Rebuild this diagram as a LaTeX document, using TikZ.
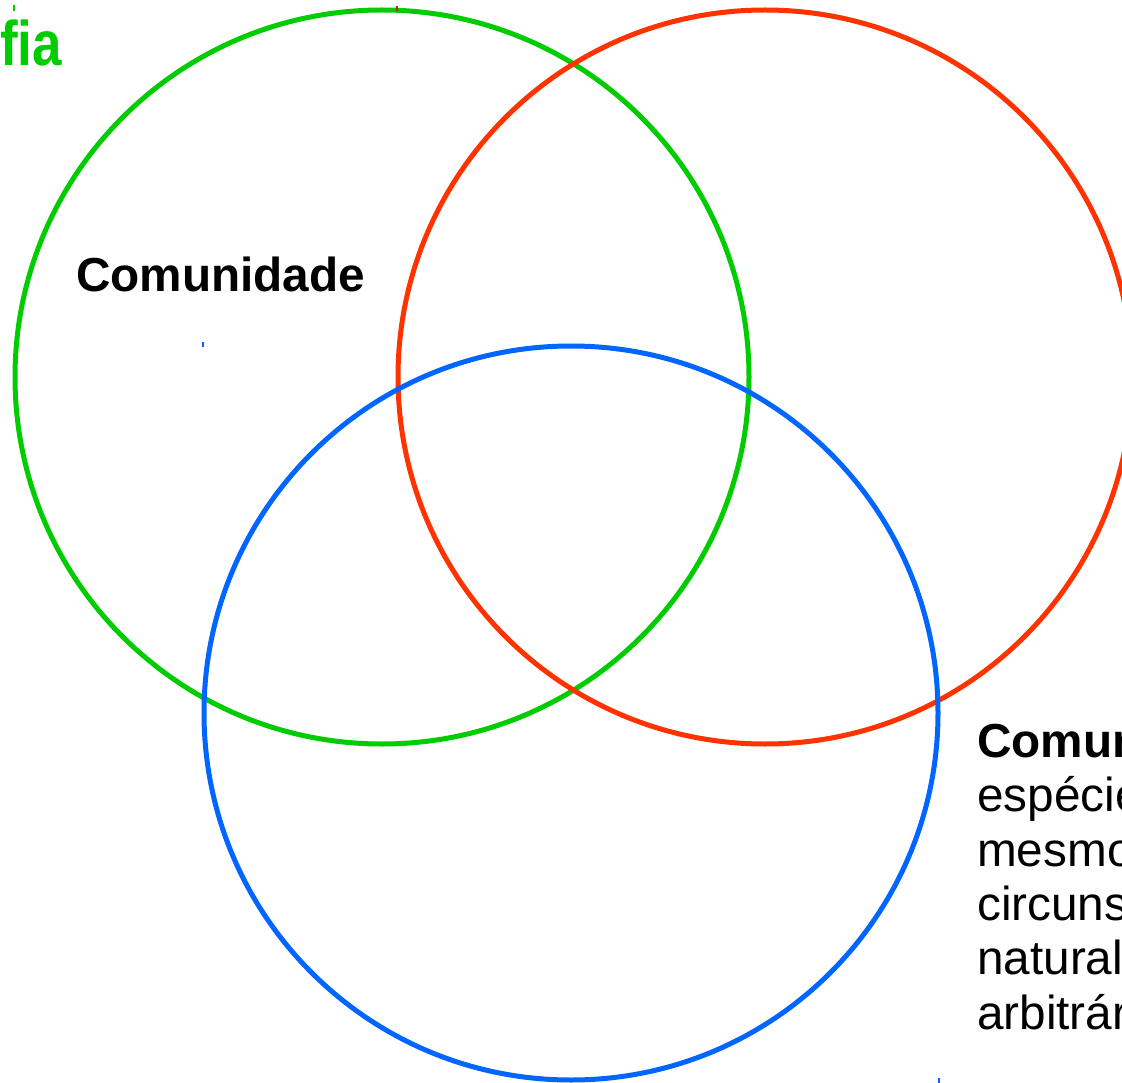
\documentclass[tikz,border=0pt]{standalone}
\usepackage{fontspec}
\setmainfont{Liberation Sans}
\definecolor{ringgreen}{HTML}{00CC00}
\definecolor{ringred}{HTML}{FF3300}
\definecolor{ringblue}{HTML}{0066FF}
\begin{document}
\begin{tikzpicture}[x=1pt,y=-1pt,
  ring/.style={line width=5pt},
  tick/.style={line width=1.2pt},
  label/.style={inner sep=0pt,anchor=base west,font=\fontsize{47.7}{54}\selectfont},
  heading/.style={label,font=\fontsize{47.7}{54}\selectfont\bfseries}]
\useasboundingbox (0,0) rectangle (1122,1083);

% the three overlapping sets
\draw[ring,ringgreen] (382,377) circle[radius=367pt];
\draw[ring,ringred]   (765,377) circle[radius=367pt];
\draw[ring,ringblue]  (571,713) circle[radius=367pt];

% small marks at the shape handles
\draw[tick,ringgreen] (14,5) -- (14,11);
\draw[tick,ringred!70!black] (397,6) -- (397,11);
\draw[tick,ringblue] (203,342) -- (203,347);
\draw[tick,ringblue] (939,1078) -- (939,1083);

% titles and text
\node[inner sep=0pt,anchor=base east,text=ringgreen,
      font=\fontsize{63}{72}\selectfont\bfseries] (title) at (62,66)
      {\scalebox{0.84}[1]{Geografia}};
\node[heading] (comA) at (76,292) {Comunidade};
\node[heading] (comB) at (977,757) {Comunidade};
\node[label] (l1) at (977,811) {espécies};
\node[label] (l2) at (977,866) {mesmo};
\node[label] (l3) at (977,920) {circunstâncias};
\node[label] (l4) at (977,974) {natural};
\node[label] (l5) at (977,1029) {arbitrário};
\end{tikzpicture}
\end{document}
